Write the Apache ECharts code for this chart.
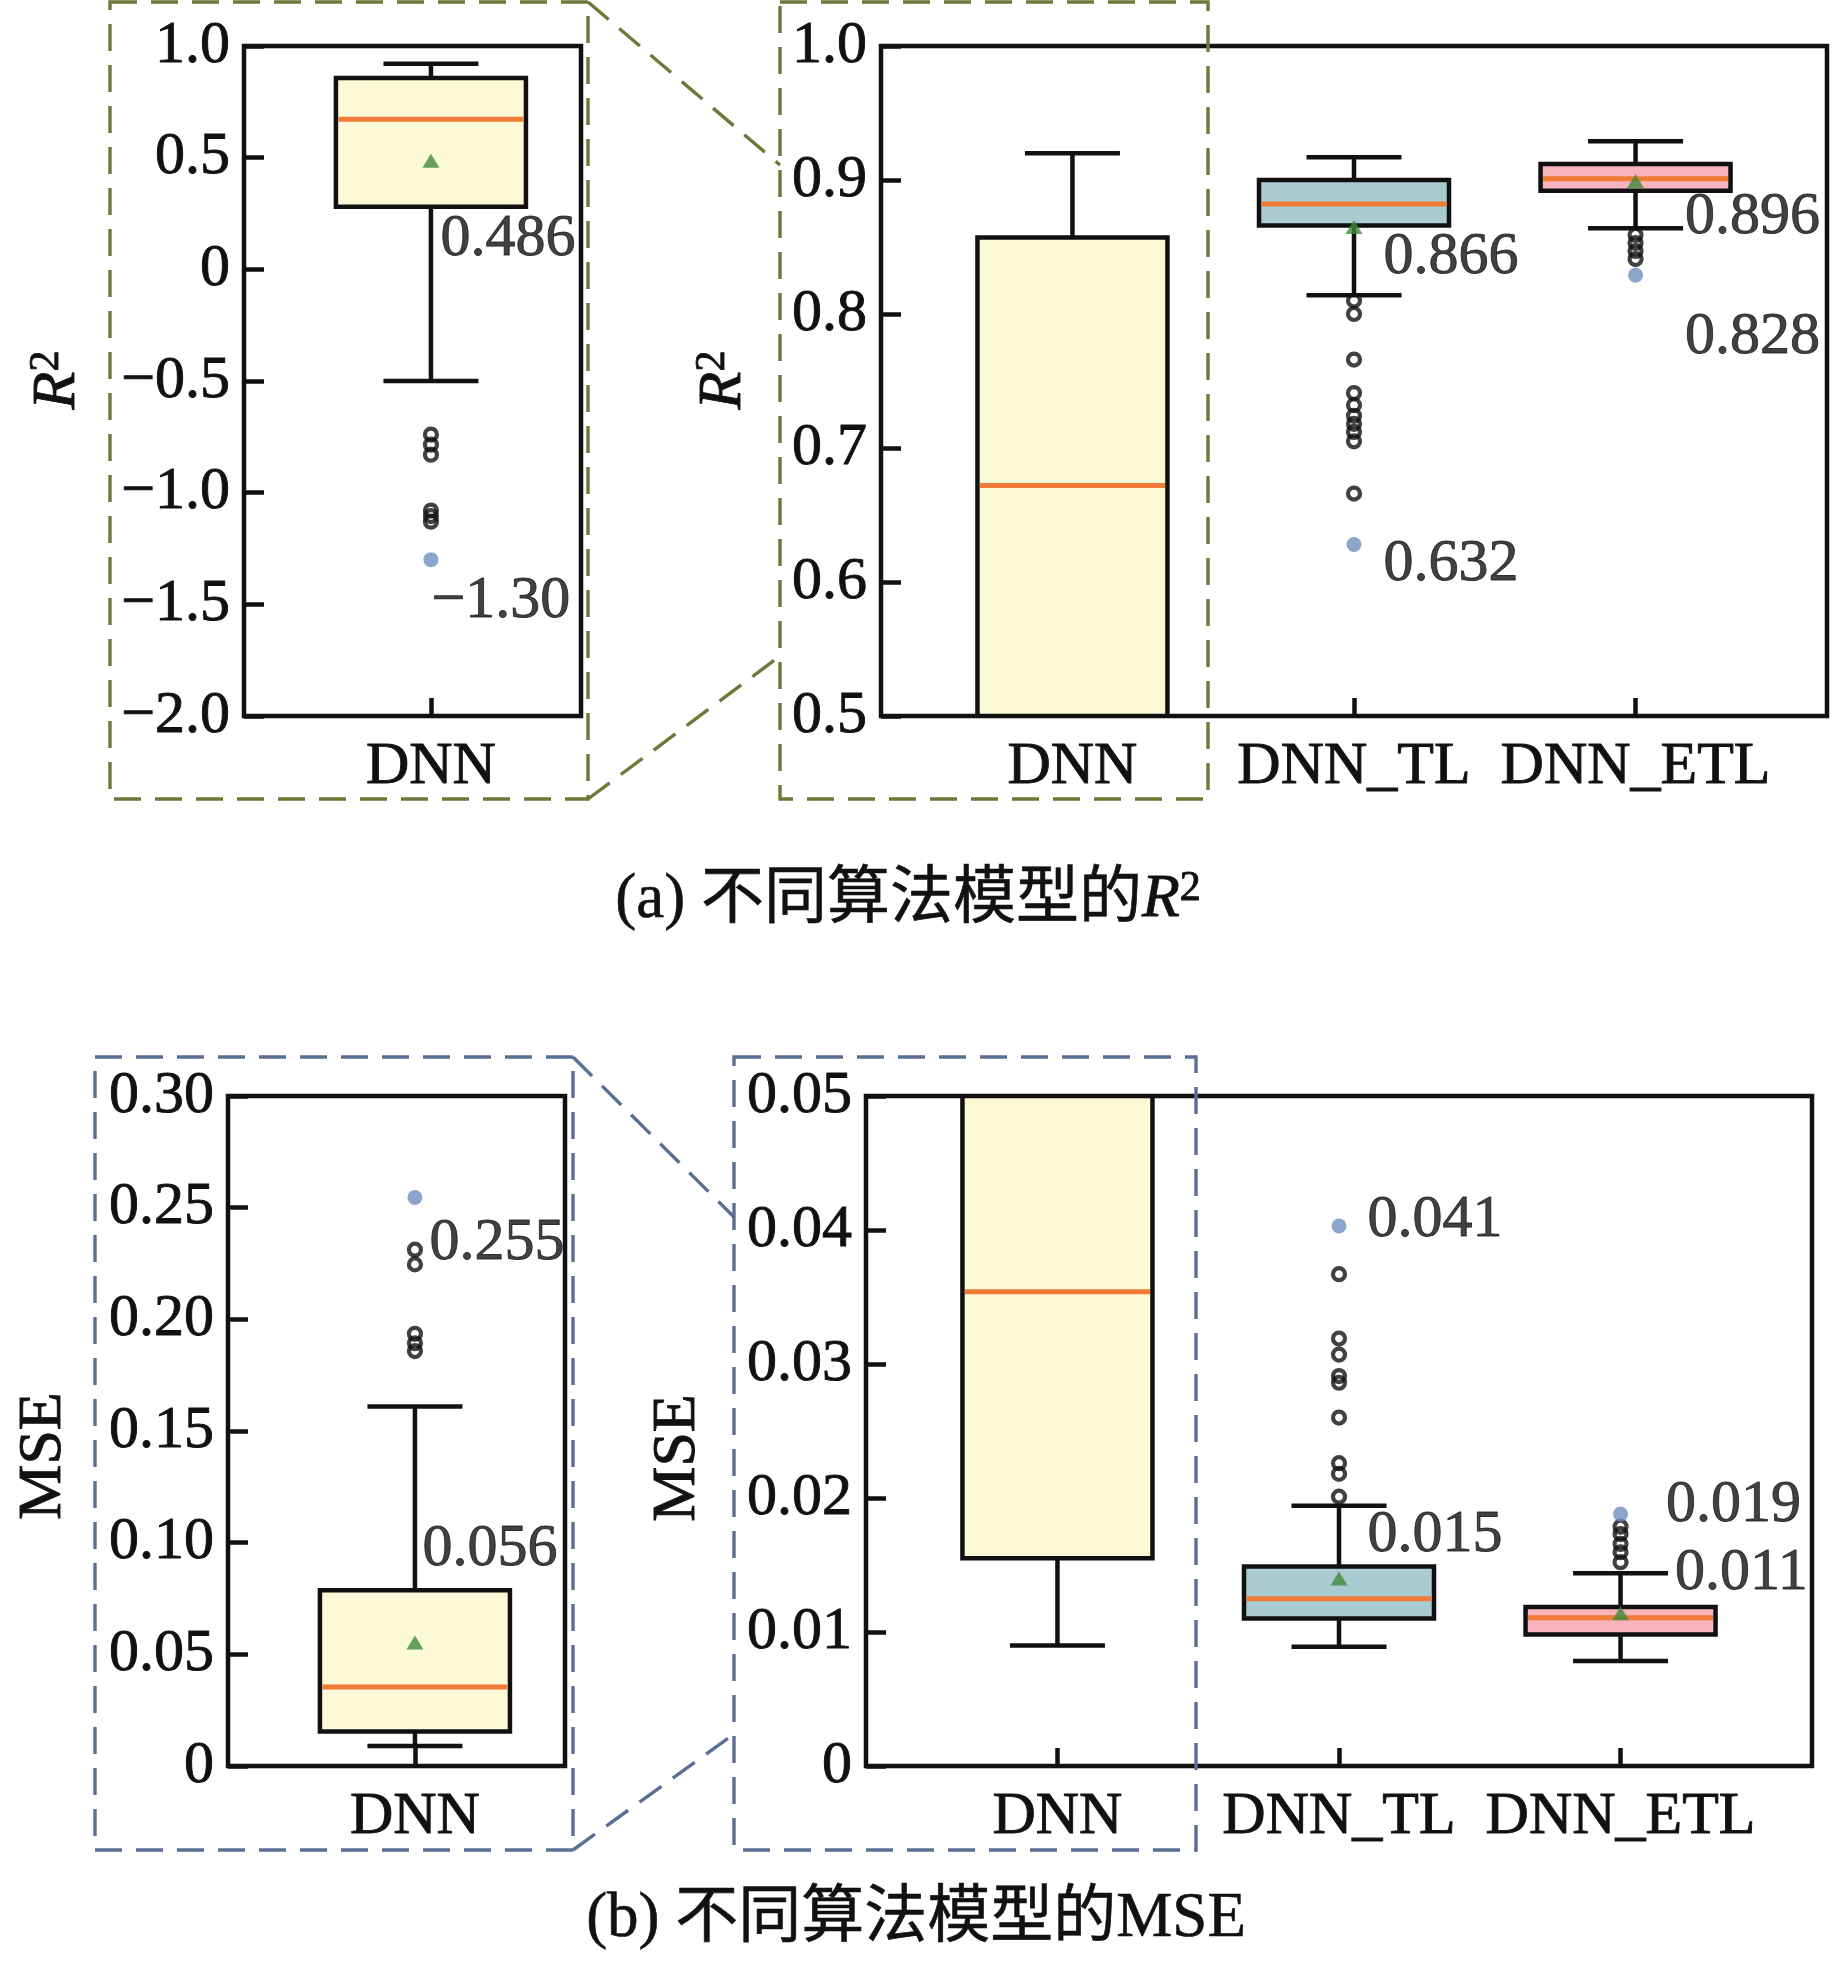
<!DOCTYPE html>
<html><head><meta charset="utf-8">
<script src="https://cdn.jsdelivr.net/npm/echarts@6/dist/echarts.min.js"></script>
<style>html,body{margin:0;padding:0;background:#fff}#c{width:1837px;height:1967px}</style>
</head><body><div id="c"></div>
<script>
// ================= DATA =================
const models = ['DNN', 'DNN_TL', 'DNN_ETL'];
// whisker-box stats per model: [lower whisker, Q1, median, Q3, upper whisker]
const r2Stats = [
  [-0.50, 0.280, 0.672, 0.857, 0.920],
  [0.814, 0.866, 0.882, 0.900, 0.917],
  [0.864, 0.892, 0.901, 0.912, 0.929]
];
const r2Means = [0.486, 0.865, 0.899];
const r2Extremes = [-1.30, 0.628, 0.829];
const r2OutliersDNN = [-0.74, -0.785, -0.83, -1.08, -1.105, -1.13];
const r2OutliersTL = [0.810, 0.800, 0.766, 0.741, 0.732, 0.724, 0.718, 0.712, 0.705, 0.666];
const r2OutliersETL = [0.859, 0.853, 0.847, 0.841];
const r2Notes = [['0.486', '−1.30'], ['0.866', '0.632'], ['0.896', '0.828']]; // [mean note, extreme note]

const mseStats = [
  [0.0090, 0.0155, 0.0354, 0.0787, 0.1610],
  [0.00889, 0.0110, 0.01248, 0.01489, 0.01942],
  [0.00783, 0.00981, 0.01107, 0.01186, 0.01439]
];
const mseMeans = [0.0553, 0.0140, 0.0114];
const mseExtremes = [0.2546, 0.0403, 0.0188];
const mseOutliersDNN = [0.2312, 0.2246, 0.1935, 0.1893, 0.1858];
const mseOutliersTL = [0.0367, 0.0319, 0.0307, 0.0291, 0.0286, 0.0260, 0.0226, 0.0218, 0.0201];
const mseOutliersETL = [0.01786, 0.01731, 0.01657, 0.01595, 0.01521];
const mseNotes = [['0.056', '0.255'], ['0.015', '0.041'], ['0.011', '0.019']];

const r2LeftTicks = [-2.0, -1.5, -1.0, -0.5, 0, 0.5, 1.0];
const r2LeftTickLabels = ['−2.0', '−1.5', '−1.0', '−0.5', '0', '0.5', '1.0'];
const r2RightTicks = [0.5, 0.6, 0.7, 0.8, 0.9, 1.0];
const r2RightTickLabels = ['0.5', '0.6', '0.7', '0.8', '0.9', '1.0'];
const mseLeftTicks = [0, 0.05, 0.10, 0.15, 0.20, 0.25, 0.30];
const mseLeftTickLabels = ['0', '0.05', '0.10', '0.15', '0.20', '0.25', '0.30'];
const mseRightTicks = [0, 0.01, 0.02, 0.03, 0.04, 0.05];
const mseRightTickLabels = ['0', '0.01', '0.02', '0.03', '0.04', '0.05'];

const captionA = '(a) 不同算法模型的{i|R}{s|2}';
const captionB = '(b) 不同算法模型的MSE';

// ================= STYLE / LAYOUT =================
const SERIF = "'Liberation Serif','Times New Roman',serif";
const CAPFONT = "'Liberation Serif','Noto Sans CJK SC',serif";
const INK = '#111';
const FRAME_W = 4.5, LW = 4.5, MED_W = 5;
const TB = 0.9; // slight text thickening
const BOX_W = 190, CAP_W = 95;
const boxFill = ['#fcf9d6', '#a9cbd1', '#f8b3bd'];
const MEDIAN = '#ef7b36', MEAN = '#3d8b37', EXTREME = '#6f8fc1';
const OLIVE = '#6b7a39', SLATE = '#5b6f95';
const FS = 60;

const panels = [
  { metric: 'r2', models: [0], grid: { left: 244, top: 46, width: 337, height: 670 }, xRange: [0.336, 1.533],
    ticks: r2LeftTicks, tickLabels: r2LeftTickLabels, interval: 0.5,
    notes: { 0: { mean: [10, 79], ext: [1, 42] } } },
  { metric: 'r2', models: [0, 1, 2], grid: { left: 881, top: 46, width: 946, height: 670 }, xRange: [0.32, 3.68],
    ticks: r2RightTicks, tickLabels: r2RightTickLabels, interval: 0.1,
    notes: { 1: { mean: [30, 31], ext: [30, 20] }, 2: { mean: [50, 36], ext: [50, 63] } } },
  { metric: 'mse', models: [0], grid: { left: 228, top: 1096, width: 337, height: 670 }, xRange: [0.336, 1.533],
    ticks: mseLeftTicks, tickLabels: mseLeftTickLabels, interval: 0.05,
    notes: { 0: { mean: [8, -93], ext: [15, 46] } } },
  { metric: 'mse', models: [0, 1, 2], grid: { left: 866, top: 1096, width: 946, height: 670 }, xRange: [0.32, 3.68],
    ticks: mseRightTicks, tickLabels: mseRightTickLabels, interval: 0.01,
    notes: { 1: { mean: [29, -43], ext: [29, -5] }, 2: { mean: [55, -39], ext: [46, -8] } } }
];

const chart = echarts.init(document.getElementById('c'), null, { renderer: 'canvas' });

function renderBox(params, api) {
  const x = api.value(0);
  const s = [api.value(1), api.value(2), api.value(3), api.value(4), api.value(5)];
  const cs = params.coordSys;
  const top = cs.y, bot = cs.y + cs.height;
  const cx = api.coord([x, s[2]])[0];
  const py = s.map(v => api.coord([x, v])[1]);
  const clamp = y => Math.min(bot, Math.max(top, y));
  const inside = y => y >= top - 0.5 && y <= bot + 0.5;
  const hw = BOX_W / 2, cw = CAP_W / 2;
  const kids = [];
  const seg = (x1, y1, x2, y2, c, w) => ({ type: 'line', shape: { x1, y1, x2, y2 }, style: { stroke: c, lineWidth: w || LW } });
  let a = clamp(py[1]), b = clamp(py[0]);
  if (b - a > 0.5) kids.push(seg(cx, a, cx, b, INK));
  if (inside(py[0])) kids.push(seg(cx - cw, py[0], cx + cw, py[0], INK));
  a = clamp(py[4]); b = clamp(py[3]);
  if (b - a > 0.5) kids.push(seg(cx, a, cx, b, INK));
  if (inside(py[4])) kids.push(seg(cx - cw, py[4], cx + cw, py[4], INK));
  const yt = clamp(py[3]), yb = clamp(py[1]);
  if (yb - yt > 0.5) {
    kids.push({ type: 'rect', shape: { x: cx - hw, y: yt, width: BOX_W, height: yb - yt },
      style: { fill: boxFill[Math.round(x) - 1], stroke: INK, lineWidth: LW } });
  }
  if (inside(py[2])) kids.push(seg(cx - hw + 2.5, py[2], cx + hw - 2.5, py[2], MEDIAN, MED_W));
  return { type: 'group', children: kids };
}

const txt = { fontSize: FS, fontFamily: SERIF, color: INK, textBorderColor: INK, textBorderWidth: TB };
const grids = [], xAxes = [], yAxes = [], series = [];
panels.forEach((p, pi) => {
  grids.push(Object.assign({ show: true, borderColor: INK, borderWidth: FRAME_W, backgroundColor: 'transparent', containLabel: false }, p.grid));
  const xs = p.models.map(i => i + 1);
  xAxes.push({
    type: 'value', gridIndex: pi, min: p.xRange[0], max: p.xRange[1],
    axisLine: { show: false, onZero: false }, splitLine: { show: false },
    axisTick: { show: true, inside: true, length: 18, lineStyle: { color: INK, width: LW }, customValues: xs },
    axisLabel: Object.assign({ show: true, customValues: xs, formatter: v => models[Math.round(v) - 1], margin: 21 }, txt)
  });
  yAxes.push({
    type: 'value', gridIndex: pi, min: p.ticks[0], max: p.ticks[p.ticks.length - 1], interval: p.interval,
    axisLine: { show: false, onZero: false }, splitLine: { show: false },
    axisTick: { show: true, inside: true, length: 20, lineStyle: { color: INK, width: LW }, customValues: p.ticks },
    axisLabel: Object.assign({ show: true, customValues: p.ticks, margin: 14,
      formatter: v => { const k = p.ticks.findIndex(t => Math.abs(t - v) < 1e-9); return k >= 0 ? p.tickLabels[k] : ''; } }, txt)
  });

  const stats = p.metric === 'r2' ? r2Stats : mseStats;
  const means = p.metric === 'r2' ? r2Means : mseMeans;
  const extremes = p.metric === 'r2' ? r2Extremes : mseExtremes;
  const outs = p.metric === 'r2' ? [r2OutliersDNN, r2OutliersTL, r2OutliersETL] : [mseOutliersDNN, mseOutliersTL, mseOutliersETL];
  const notes = p.metric === 'r2' ? r2Notes : mseNotes;

  series.push({ type: 'custom', xAxisIndex: pi, yAxisIndex: pi, clip: true, z: 2, silent: true,
    renderItem: renderBox, encode: { x: 0, y: [1, 2, 3, 4, 5] },
    data: p.models.map(i => [i + 1].concat(stats[i])) });
  series.push({ type: 'scatter', xAxisIndex: pi, yAxisIndex: pi, clip: true, z: 3, silent: true,
    symbol: 'circle', symbolSize: 12,
    itemStyle: { color: 'rgba(0,0,0,0)', borderColor: INK, borderWidth: 4.2 },
    data: p.models.flatMap(i => outs[i].map(v => [i + 1, v])) });
  series.push({ type: 'scatter', xAxisIndex: pi, yAxisIndex: pi, clip: true, z: 3, silent: true,
    symbol: 'circle', symbolSize: 15, itemStyle: { color: EXTREME },
    data: p.models.map(i => [i + 1, extremes[i]]) });
  series.push({ type: 'scatter', xAxisIndex: pi, yAxisIndex: pi, clip: true, z: 4, silent: true,
    symbol: 'triangle', symbolSize: [17, 14], itemStyle: { color: MEAN },
    data: p.models.map(i => [i + 1, means[i]]) });
  const noteData = [];
  Object.keys(p.notes).forEach(k => {
    const i = +k;
    noteData.push({ value: [i + 1, means[i]], name: notes[i][0], label: { position: p.notes[k].mean } });
    noteData.push({ value: [i + 1, extremes[i]], name: notes[i][1], label: { position: p.notes[k].ext } });
  });
  series.push({ type: 'scatter', xAxisIndex: pi, yAxisIndex: pi, clip: false, z: 5, silent: true,
    symbol: 'circle', symbolSize: 1, itemStyle: { color: 'rgba(0,0,0,0)' },
    label: Object.assign({ show: true, formatter: '{b}', align: 'left', verticalAlign: 'middle' }, txt),
    data: noteData });
});

const dash = (x, y, w, h, c) => ({ type: 'rect', silent: true, shape: { x, y, width: w, height: h },
  style: { fill: 'none', stroke: c, lineWidth: 3.4, lineDash: [27, 14] } });
const dline = (x1, y1, x2, y2, c) => ({ type: 'line', silent: true, shape: { x1, y1, x2, y2 },
  style: { stroke: c, lineWidth: 3.4, lineDash: [27, 14] } });
const richR = {
  i: { fontSize: 62, fontStyle: 'italic', fontFamily: SERIF, fill: INK, stroke: INK, lineWidth: TB, lineHeight: 64 },
  s: { fontSize: 42, fontFamily: SERIF, fill: INK, stroke: INK, lineWidth: TB, verticalAlign: 'top', lineHeight: 40 }
};
const vtext = (x, y, text, rich) => ({ type: 'text', x, y, rotation: Math.PI / 2, silent: true,
  style: { text, fill: INK, stroke: INK, lineWidth: TB, fontSize: 62, fontFamily: SERIF, align: 'center', verticalAlign: 'middle', rich } });

const graphic = [
  dash(110, 2, 478, 797, OLIVE), dash(780, 2, 428, 797, OLIVE),
  dline(588, 2, 780, 165, OLIVE), dline(588, 799, 780, 656, OLIVE),
  dash(95, 1057, 478, 793, SLATE), dash(734, 1057, 462, 793, SLATE),
  dline(573, 1057, 734, 1217, SLATE), dline(573, 1850, 734, 1734, SLATE),
  vtext(58, 380, '{i|R}{s|2}', richR), vtext(724, 380, '{i|R}{s|2}', richR),
  vtext(44, 1456, 'MSE'), vtext(678, 1458, 'MSE'),
  { type: 'text', x: 908, y: 900, silent: true,
    style: { text: captionA, fill: INK, stroke: INK, lineWidth: 0.6, fontSize: 63, fontFamily: CAPFONT, align: 'center', verticalAlign: 'middle', rich: richR } },
  { type: 'text', x: 916, y: 1919, silent: true,
    style: { text: captionB, fill: INK, stroke: INK, lineWidth: 0.6, fontSize: 63, fontFamily: CAPFONT, align: 'center', verticalAlign: 'middle' } }
];

chart.setOption({
  animation: false,
  backgroundColor: '#fff',
  grid: grids, xAxis: xAxes, yAxis: yAxes, series, graphic
});
</script></body></html>
